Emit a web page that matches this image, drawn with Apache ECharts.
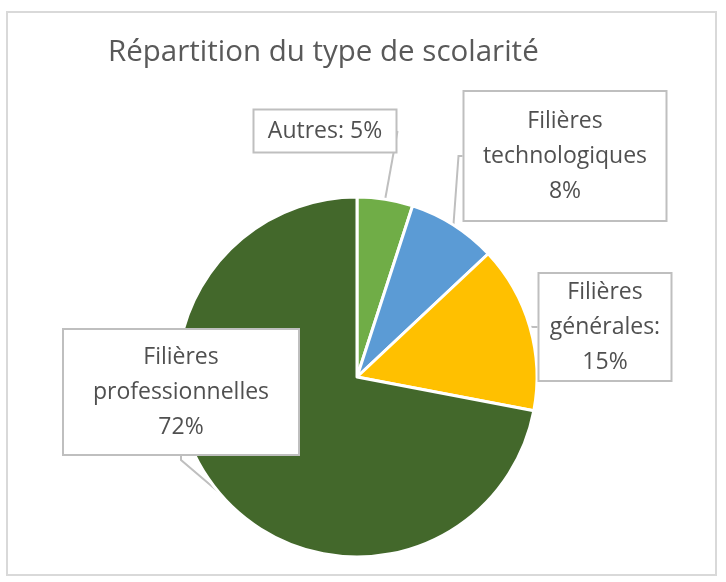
<!DOCTYPE html>
<html><head><meta charset="utf-8">
<script src="https://cdn.jsdelivr.net/npm/echarts@6/dist/echarts.min.js"></script>
<style>html,body{margin:0;padding:0;background:#fff}#c{width:726px;height:582px}</style>
</head><body><div id="c"></div>
<script>
const categories = ['Autres', 'Filières technologiques', 'Filières générales', 'Filières professionnelles'];
const values = [5, 8, 15, 72];
const labelTexts = ['Autres: 5%', 'Filières\ntechnologiques\n8%', 'Filières\ngénérales:\n15%', 'Filières\nprofessionnelles\n72%'];
const colors = ['#70AD47', '#5B9BD5', '#FFC000', '#43682B'];
// label box layout (center x, center y, width, height)
const boxes = [[325, 131, 145, 45], [565, 156, 205, 132], [605, 327, 135, 110], [181, 392, 238, 128]];

const chart = echarts.init(document.getElementById('c'), null, {renderer: 'canvas'});
chart.setOption({
  animation: false,
  title: {
    text: 'Répartition du type de scolarité',
    left: 103, top: 33,
    textStyle: {fontFamily: 'Open Sans', fontSize: 29.5, fontWeight: 'normal', color: '#595959'}
  },
  graphic: [{
    type: 'rect', shape: {x: 7, y: 12, width: 709, height: 563},
    style: {fill: 'none', stroke: '#D9D9D9', lineWidth: 2}, silent: true, z: -1
  }],
  series: [{
    type: 'pie',
    center: [357, 377],
    radius: 180,
    startAngle: 90,
    clockwise: true,
    itemStyle: {borderColor: '#fff', borderWidth: 3},
    data: categories.map((c, i) => ({
      name: c, value: values[i], itemStyle: {color: colors[i]},
      label: {
        formatter: labelTexts[i],
        width: boxes[i][2] - 4, height: boxes[i][3] - 4
      }
    })),
    label: {
      show: true,
      position: 'outside',
      fontFamily: 'Open Sans', fontSize: 23, color: '#505050',
      lineHeight: 35, align: 'center', verticalAlign: 'middle',
      backgroundColor: '#fff', borderColor: '#BFBFBF', borderWidth: 2,
      padding: 0
    },
    labelLine: {show: true, length: 8, length2: 4, lineStyle: {color: '#BFBFBF', width: 2}},
    labelLayout: function (p) {
      const b = boxes[p.dataIndex];
      return {x: b[0], y: b[1], align: 'center', verticalAlign: 'middle'};
    }
  }]
});
</script></body></html>
